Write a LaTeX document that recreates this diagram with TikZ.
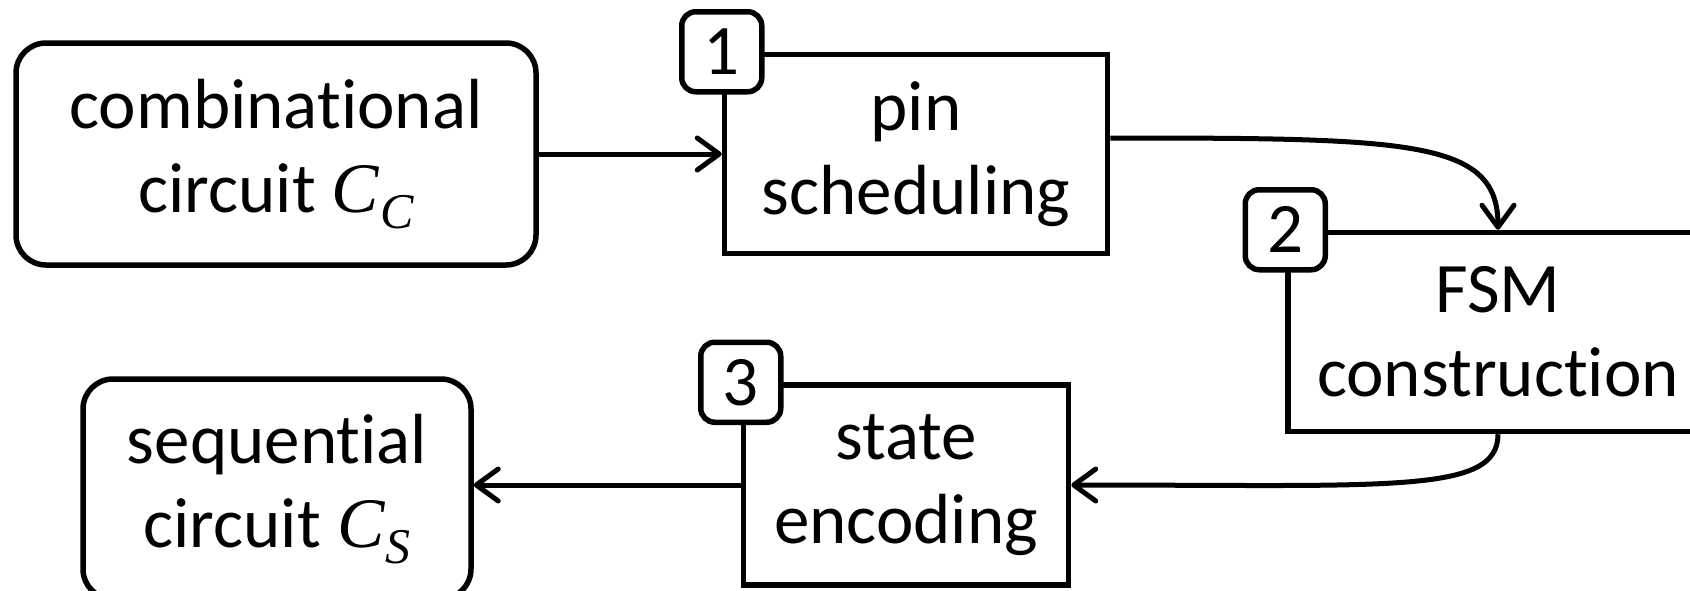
\documentclass[tikz,border=0pt]{standalone}
\usepackage{fontspec}
\setmainfont{Carlito}[RawFeature={-liga;-clig;-calt;-dlig}]
\newfontfamily\mathserif{Liberation Serif}
\usetikzlibrary{arrows.meta}
\newcommand{\varsub}[2]{{\mathserif\itshape #1\kern1pt\raisebox{-0.22em}{\fontsize{50}{50}\selectfont #2}}}
\tikzset{
  terminal/.style={draw, line width=5.5pt, rounded corners=30pt, align=center, inner sep=0pt},
  stage/.style={draw, line width=5.5pt, align=center, inner sep=0pt},
  badge/.style={draw, fill=white, line width=5.5pt, rounded corners=14pt, minimum width=80pt, minimum height=80pt, inner sep=0pt},
  flow/.style={line width=5pt, -{Straight Barb[length=22pt,width=32pt,round]}}
}
\begin{document}
\begin{tikzpicture}[x=1pt,y=-1pt, font=\fontsize{71}{84}\selectfont]
\useasboundingbox (0,0) rectangle (1690,590);
\clip (0,0) rectangle (1690,590);
\node[terminal, minimum width=520pt, minimum height=222pt] (cc) at (276,154) {combinational\\circuit \varsub{C}{C}};
\node[stage, minimum width=383pt, minimum height=199pt] (ps) at (916,154) {pin\\scheduling};
\node[stage, minimum width=420pt, minimum height=199pt] (fsm) at (1498,332) {FSM\\construction};
\node[stage, minimum width=325pt, minimum height=200pt] (se) at (906,485) {state\\encoding};
\node[terminal, minimum width=388pt, minimum height=220pt] (sc) at (277,489) {sequential\\circuit \varsub{C}{S}};
\node[badge] (b1) at (ps.north west) {1};
\node[badge] (b2) at (fsm.north west) {2};
\node[badge] (b3) at (se.north west) {3};
\draw[flow] (cc.east) -- (cc.east -| ps.west);
\draw[flow] ([yshift=16pt]ps.east) .. controls +(300,0) and +(0,-90) .. (fsm.north);
\draw[flow] (fsm.south) .. controls +(0,60) and +(320,0) .. (se.east);
\draw[flow] (se.west) -- (se.west -| sc.east);
\end{tikzpicture}
\end{document}
